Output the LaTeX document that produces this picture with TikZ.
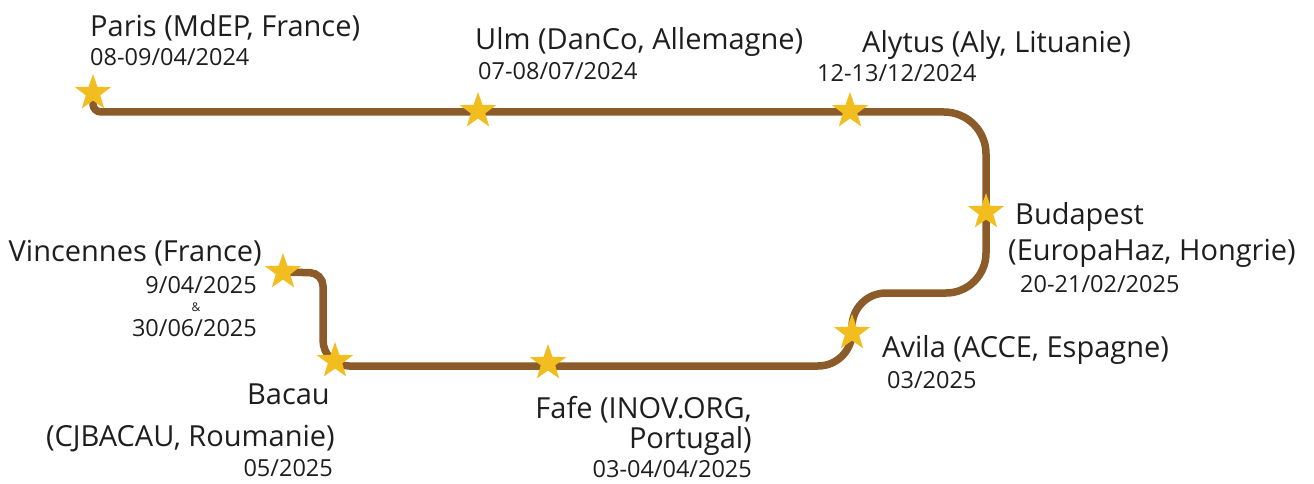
\documentclass[tikz,border=0pt]{standalone}
\usepackage{fontspec}
\setmainfont{Open Sans}
\usetikzlibrary{shapes.geometric}
\definecolor{roadc}{HTML}{8B5C2A}
\definecolor{starc}{HTML}{F2BD1F}
\definecolor{txtc}{HTML}{1E1E1E}
\pgfdeclarelayer{bg}
\pgfsetlayers{bg,main}
\tikzset{
  road/.style={draw=roadc, line width=7.5pt, line cap=round},
  stopstar/.style={star, star points=5, star point ratio=2.5, fill=starc, draw=none, minimum size=38pt, inner sep=0pt},
  title/.style={inner sep=0pt, text=txtc, font=\fontsize{29}{34}\selectfont},
  datel/.style={inner sep=0pt, text=txtc, font=\fontsize{23.5}{28}\selectfont},
}
\begin{document}
\begin{tikzpicture}[x=1pt,y=-1pt]
\useasboundingbox (0,0) rectangle (1314,484);
% stars
\node[stopstar] (paris) at (93,93) {};
\node[stopstar] (ulm) at (478,111) {};
\node[stopstar] (alytus) at (850,111) {};
\node[stopstar] (buda) at (986,212) {};
\node[stopstar] (avila) at (852,333) {};
\node[stopstar] (fafe) at (548,363) {};
\node[stopstar] (bacau) at (335,361) {};
\node[stopstar] (vinc) at (283,272) {};
% road
\begin{pgfonlayer}{bg}
\path[road] ([yshift=-11pt]paris.center)
  [rounded corners=8pt] -- (93,112)
  [rounded corners=42pt] -- (986,112)
  [rounded corners=40pt] -- (986,293)
  [rounded corners=34pt] -- (852,293)
  [rounded corners=34pt] -- (852,366)
  [rounded corners=26pt] -- (323,366)
  [rounded corners=13pt] -- (323,273)
  -- (vinc.center);
\end{pgfonlayer}
% labels
\node[title, anchor=base west] (tparis) at (90,37) {Paris (MdEP, France)};
\node[datel, anchor=base west] (dparis) at (90,66) {08-09/04/2024};
\node[title, anchor=base west] (tulm) at (475,50) {Ulm (DanCo, Allemagne)};
\node[datel, anchor=base west] (dulm) at (478,80) {07-08/07/2024};
\node[title, anchor=base west] (taly) at (862,53) {Alytus (Aly, Lituanie)};
\node[datel, anchor=base west] (daly) at (817,82) {12-13/12/2024};
\node[title, anchor=base west] (tbuda1) at (1015,224) {Budapest};
\node[title, anchor=base west] (tbuda2) at (1008,260) {(EuropaHaz, Hongrie)};
\node[datel, anchor=base west] (dbuda) at (1020,292) {20-21/02/2025};
\node[title, anchor=base west] (tavila) at (882,357) {Avila (ACCE, Espagne)};
\node[datel, anchor=base west] (davila) at (887,388) {03/2025};
\node[title, anchor=base east] (tvinc) at (262,261) {Vincennes (France)};
\node[datel, anchor=base east] (dvinc1) at (257,293) {9/04/2025};
\node[inner sep=0pt, text=txtc, font=\fontsize{12}{14}\selectfont, anchor=base] (amp) at (196,311) {\&};
\node[datel, anchor=base east] (dvinc2) at (257,336) {30/06/2025};
\node[title, anchor=base east] (tbac1) at (330,404) {Bacau};
\node[title, anchor=base east] (tbac2) at (335,446) {(CJBACAU, Roumanie)};
\node[datel, anchor=base east] (dbac) at (333,476) {05/2025};
\node[title, anchor=base east] (tfafe1) at (752,418) {Fafe (INOV.ORG,};
\node[title, anchor=base east] (tfafe2) at (752,448) {Portugal)};
\node[datel, anchor=base east] (dfafe) at (752,477) {03-04/04/2025};
\end{tikzpicture}
\end{document}
